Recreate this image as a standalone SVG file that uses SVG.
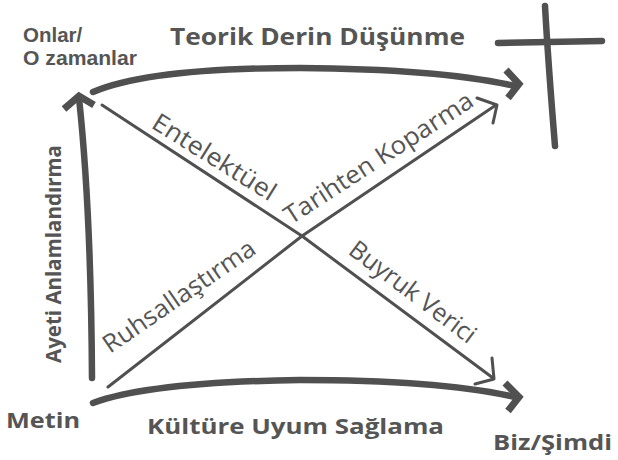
<svg xmlns="http://www.w3.org/2000/svg" width="618" height="460" viewBox="0 0 618 460">
<style>
.b{font-family:"Open Sans","Liberation Sans",sans-serif;font-weight:bold;fill:#555;}
.b2{font-family:"Liberation Sans",Arial,sans-serif;font-weight:bold;fill:#555;font-size:20.5px;}
.r{font-family:"Open Sans","Liberation Sans",sans-serif;font-weight:normal;fill:#555;font-size:25px;}
.thick{fill:none;stroke:#505050;stroke-width:6.5;stroke-linecap:round;stroke-linejoin:round;}
.thin{fill:none;stroke:#505050;stroke-width:3;stroke-linecap:round;stroke-linejoin:round;}
.head{fill:none;stroke:#505050;stroke-width:7;stroke-linecap:butt;stroke-linejoin:miter;}
</style>
<rect width="618" height="460" fill="#fff"/>
<g id="connectors">
  <g id="top-arrow">
    <path class="thick" d="M93,92 Q150,68 300,68 Q440,69 515,86"/>
    <path class="head" d="M506,70 L519,84 L508,98"/>
  </g>
  <g id="bottom-arrow">
    <path class="thick" d="M93,403 Q150,382 300,380 Q440,380 515,397"/>
    <path class="head" d="M505,383 L519,397 L508,411"/>
  </g>
  <g id="left-arrow">
    <path class="thick" d="M92,378 Q91,210 79,98"/>
    <path class="head" d="M64,109 L79,96 L94,105"/>
  </g>
  <g id="diag-down">
    <path class="thin" d="M102,105 L302,236 L493,378"/>
    <path class="thin" d="M492,358 L494,379 L475,384"/>
  </g>
  <g id="diag-up">
    <path class="thin" d="M108,387 L302,236 L496,105"/>
    <path class="thin" d="M477,98 L497,105 L493,123"/>
  </g>
</g>
<g id="cross">
  <path class="thick" d="M545,6 Q548,60 555,146"/>
  <path class="thick" d="M498,43 L602,41"/>
</g>
<g id="node-onlar">
  <text class="b2" x="23" y="41.5">Onlar/</text>
  <text class="b2" x="23" y="65" textLength="114" lengthAdjust="spacingAndGlyphs">O zamanlar</text>
</g>
<g id="node-teorik">
  <text class="b" x="170" y="45" font-size="24" textLength="295" lengthAdjust="spacingAndGlyphs">Teorik Derin Düşünme</text>
</g>
<g id="node-metin">
  <text class="b" x="6" y="428" font-size="22" textLength="74" lengthAdjust="spacingAndGlyphs">Metin</text>
</g>
<g id="node-kulture">
  <text class="b" x="147" y="434" font-size="22" textLength="297" lengthAdjust="spacingAndGlyphs">Kültüre Uyum Sağlama</text>
</g>
<g id="node-biz">
  <text class="b" x="493" y="450" font-size="22" textLength="119" lengthAdjust="spacingAndGlyphs">Biz/Şimdi</text>
</g>
<g id="node-ayeti">
  <text class="b" font-size="22" transform="translate(61,363) rotate(-90)" textLength="218" lengthAdjust="spacingAndGlyphs">Ayeti Anlamlandırma</text>
</g>
<g id="label-entelektuel">
  <text class="r" transform="translate(150,127) rotate(32)" textLength="141" lengthAdjust="spacingAndGlyphs">Entelektüel</text>
</g>
<g id="label-buyruk">
  <text class="r" transform="translate(347,253) rotate(37)" textLength="152" lengthAdjust="spacingAndGlyphs">Buyruk Verici</text>
</g>
<g id="label-tarihten">
  <text class="r" transform="translate(291,225) rotate(-33)" textLength="220" lengthAdjust="spacingAndGlyphs">Tarihten Koparma</text>
</g>
<g id="label-ruhsal">
  <text class="r" transform="translate(110,354) rotate(-34.5)" textLength="179" lengthAdjust="spacingAndGlyphs">Ruhsallaştırma</text>
</g>
</svg>
